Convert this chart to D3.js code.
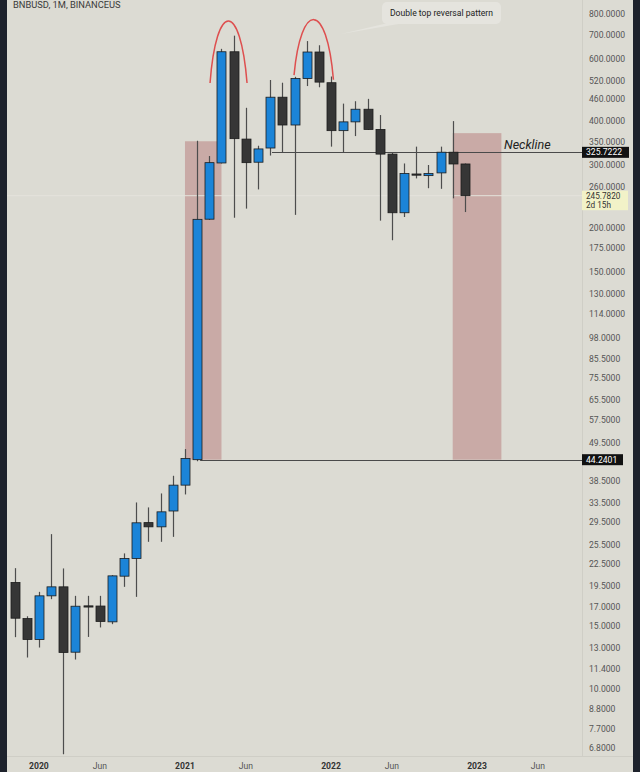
<!DOCTYPE html>
<html><head><meta charset="utf-8">
<script src="https://cdn.jsdelivr.net/npm/d3@7"></script>
<style>html,body{margin:0;padding:0;background:#dcdbd3;}svg{display:block;}</style>
</head><body>
<svg id="c" width="640" height="772"></svg>
<script>
// ---- data ----
const months = ["2019-11","2019-12","2020-01","2020-02","2020-03","2020-04","2020-05","2020-06","2020-07","2020-08","2020-09","2020-10","2020-11","2020-12",
"2021-01","2021-02","2021-03","2021-04","2021-05","2021-06","2021-07","2021-08","2021-09","2021-10","2021-11","2021-12",
"2022-01","2022-02","2022-03","2022-04","2022-05","2022-06","2022-07","2022-08","2022-09","2022-10","2022-11","2022-12"];
const open  = [19.93,15.76,13.76,18.27,19.37,12.67,17.12,17.10,15.43,20.76,23.29,29.40,28.60,31.70,37.50,44.24,211.0,304.0,626.0,355.0,305.5,335.0,466.0,389.0,526.0,625.0,512.0,375.0,397.0,431.0,378.0,322.0,220.0,283.0,280.0,285.0,326.0,302.0];
const high  = [21.87,16.00,18.75,27.28,21.83,18.27,18.27,18.27,20.90,24.07,33.51,32.45,35.53,39.85,47.40,351.0,318.0,638.0,695.0,435.0,340.0,521.0,512.0,532.0,671.0,653.0,533.0,447.0,454.0,461.0,415.0,326.0,303.0,338.0,300.0,338.0,399.0,303.0];
const low   = [13.97,12.24,13.06,17.88,6.53,12.08,13.99,14.88,15.20,19.37,18.15,25.95,25.95,26.80,35.30,43.80,210.0,303.0,213.0,226.0,256.0,319.0,326.0,217.0,501.0,497.0,338.0,326.0,362.0,377.0,209.0,184.0,214.0,275.0,258.0,257.0,241.6,221.0];
const close = [15.80,13.76,18.27,19.37,12.65,17.08,17.08,15.47,20.80,23.29,29.36,28.60,31.53,37.50,44.60,210.8,304.6,626.0,356.0,304.6,333.0,466.0,389.0,526.0,625.0,514.0,375.0,397.0,431.0,378.0,322.0,220.0,284.0,281.0,284.0,326.0,302.0,245.782];

const yTicks = [900,800,700,600,520,460,400,350,300,260,200,175,150,130,114,98,85.5,75.5,65.5,57.5,49.5,38.5,33.5,29.5,25.5,22.5,19.5,17,15,13,11.4,10,8.8,7.7,6.8];
const xTickIdx = [2,7,14,19,26,31,38,43];
const xTickLabels = ["2020","Jun","2021","Jun","2022","Jun","2023","Jun"];
const neckline = 325.7222;
const baseLevel = 44.2401;
const lastPrice = 245.782;
const zones = [{i0:14,i1:17,top:350,bottom:44.2401},{i0:36,i1:40,top:369,bottom:44.2401}];
const arcs = [{i0:16.06,v0:511,ip:17.53,vp:765,i1:19.1,v1:511},{i0:22.96,v0:538,ip:24.6,vp:772,i1:26.2,v1:522}];

// ---- scales ----
const svg = d3.select("#c");
const W = 640, H = 772;
const x = d3.scaleLinear().domain([0,43]).range([14.6,537.9]);
const y = d3.scaleLog().domain([6.8,800]).range([748,14]);
const bodyW = 9;
const FONT = "Roboto, 'Noto Sans', sans-serif";

svg.append("rect").attr("width",W).attr("height",H).attr("fill","#dcdbd3");

// zones
svg.selectAll("rect.zone").data(zones).enter().append("rect")
  .attr("x",d=>x(d.i0)).attr("width",d=>x(d.i1)-x(d.i0))
  .attr("y",d=>y(d.top)).attr("height",d=>y(d.bottom)-y(d.top))
  .attr("fill","#c9aaa6");

// last price faint line
svg.append("line").attr("x1",7).attr("x2",582).attr("y1",y(lastPrice)).attr("y2",y(lastPrice))
  .attr("stroke","#e4e3dc").attr("stroke-width",1);

// level lines
svg.append("line").attr("x1",272).attr("x2",583).attr("y1",Math.round(y(neckline))+0.5).attr("y2",Math.round(y(neckline))+0.5)
  .attr("stroke","#4a4a4a").attr("stroke-width",1);
svg.append("line").attr("x1",x(15)+3).attr("x2",583).attr("y1",Math.round(y(baseLevel))+0.5).attr("y2",Math.round(y(baseLevel))+0.5)
  .attr("stroke","#4a4a4a").attr("stroke-width",1);

// candles
const data = months.map((m,i)=>({m,i,o:open[i],h:high[i],l:low[i],c:close[i]}));
const g = svg.append("g");
g.selectAll("line.wick").data(data).enter().append("line")
  .attr("x1",d=>Math.round(x(d.i))+0.5).attr("x2",d=>Math.round(x(d.i))+0.5)
  .attr("y1",d=>y(d.h)).attr("y2",d=>y(d.l))
  .attr("stroke","#4d4d4d").attr("stroke-width",1.2);
g.selectAll("rect.body").data(data).enter().append("rect")
  .attr("x",d=>Math.round(x(d.i))+0.5-bodyW/2)
  .attr("width",bodyW)
  .attr("y",d=>y(Math.max(d.o,d.c)))
  .attr("height",d=>Math.max(1.2,Math.abs(y(d.o)-y(d.c))))
  .attr("fill",d=>d.c>=d.o?"#1b84d8":"#363636")
  .attr("stroke","#1c1c1c").attr("stroke-width",0.8);

// arcs
arcs.forEach(a=>{
  const p0=[x(a.i0),y(a.v0)], p1=[x(a.i1),y(a.v1)], pk=[x(a.ip),y(a.vp)];
  const c1=[p0[0]+(pk[0]-p0[0])*0.35, pk[1]-(p0[1]-pk[1])*0.33];
  const c2=[p1[0]-(p1[0]-pk[0])*0.35, pk[1]-(p1[1]-pk[1])*0.33];
  svg.append("path").attr("d",`M${p0[0]},${p0[1]} C${c1[0]},${c1[1]} ${c2[0]},${c2[1]} ${p1[0]},${p1[1]}`)
    .attr("fill","none").attr("stroke","#de4f4f").attr("stroke-width",1.5);
});

// callout
const cg = svg.append("g");
cg.append("path").attr("d","M388,23 L341,34 L404,23 Z").attr("fill","#e5e4de");
cg.append("rect").attr("x",382).attr("y",2).attr("width",119).attr("height",22).attr("rx",5).attr("fill","#e5e4de");
cg.append("text").attr("x",441.5).attr("y",15.5).attr("text-anchor","middle")
  .attr("font-family",FONT).attr("font-size",8.6).attr("fill","#222")
  .text("Double top reversal pattern");

// Neckline label
svg.append("text").attr("x",504).attr("y",148.5).attr("font-family",FONT)
  .attr("font-style","italic").attr("font-size",12.5).attr("fill","#222").text("Neckline");

// header
svg.append("text").attr("x",13).attr("y",8).attr("font-family",FONT)
  .attr("font-size",9.3).attr("fill","#3a3a3a").text("BNBUSD, 1M, BINANCEUS");

// axes borders
svg.append("line").attr("x1",582.5).attr("x2",582.5).attr("y1",0).attr("y2",757).attr("stroke","#cfcec6");
svg.append("line").attr("x1",7).attr("x2",633).attr("y1",756.5).attr("y2",756.5).attr("stroke","#cfcec6");

// y axis
const fmt = d3.format(".4f");
const yAxis = d3.axisRight(y).tickValues(yTicks).tickFormat(fmt).tickSize(0).tickPadding(6);
const ya = svg.append("g").attr("transform","translate(583,0)").call(yAxis);
ya.select(".domain").remove();
ya.selectAll("text").attr("font-family",FONT).attr("font-size",8.6).attr("fill","#555");

// price boxes
function priceBox(v,w,fill,color,extra){
  const yy=y(v);
  const h = extra?19.5:11;
  const y0 = extra? yy-5 : yy-5.5;
  svg.append("rect").attr("x",582).attr("y",y0).attr("width",w).attr("height",h).attr("fill",fill);
  const fs = extra?8.2:8.6;
  svg.append("text").attr("x",586).attr("y",extra?yy+3.2:yy+3).attr("font-family",FONT)
    .attr("font-size",fs).attr("fill",color).text(fmt(v));
  if(extra) svg.append("text").attr("x",586).attr("y",yy+12.6).attr("font-family",FONT)
    .attr("font-size",fs).attr("fill",color).text(extra);
}
priceBox(neckline,47,"#111","#fff");
priceBox(baseLevel,41,"#111","#fff");
priceBox(lastPrice,46,"#f2f2c8","#333","2d 15h");

// x axis
const xa = svg.append("g");
xa.selectAll("text").data(xTickIdx).enter().append("text")
  .attr("x",d=>x(d)).attr("y",769).attr("text-anchor","middle")
  .attr("font-family",FONT).attr("font-size",8.6)
  .attr("font-weight",(d,i)=>xTickLabels[i]==="Jun"?"normal":"bold")
  .attr("fill",(d,i)=>xTickLabels[i]==="Jun"?"#555":"#333")
  .text((d,i)=>xTickLabels[i]);

// dark side strips
svg.append("rect").attr("x",0).attr("y",0).attr("width",7).attr("height",H).attr("fill","#1d222c");
svg.append("rect").attr("x",633).attr("y",0).attr("width",7).attr("height",H).attr("fill","#1d222c");
</script>
</body></html>
